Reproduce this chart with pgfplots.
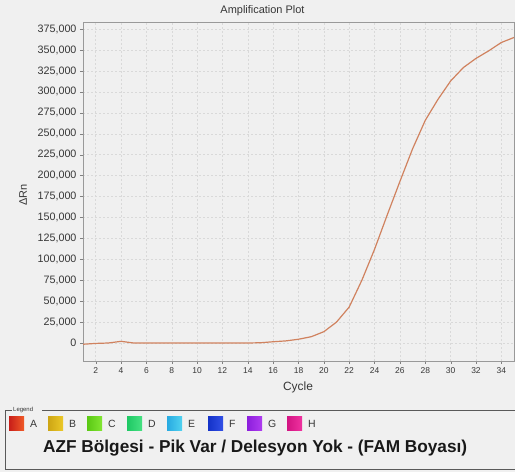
\documentclass[border=0pt]{standalone}
\usepackage{pgfplots}
\pgfplotsset{compat=1.18}
\usepackage{fontspec}
\setmainfont{Liberation Sans}
\definecolor{bg}{RGB}{240,240,240}
\definecolor{curve}{RGB}{208,130,95}
\definecolor{txt}{RGB}{55,55,55}
\definecolor{Aa}{RGB}{200,30,25}\definecolor{Ab}{RGB}{240,90,40}
\definecolor{Ba}{RGB}{205,165,20}\definecolor{Bb}{RGB}{235,200,40}
\definecolor{Ca}{RGB}{90,200,20}\definecolor{Cb}{RGB}{130,230,50}
\definecolor{Da}{RGB}{30,200,100}\definecolor{Db}{RGB}{70,225,130}
\definecolor{Ea}{RGB}{40,170,225}\definecolor{Eb}{RGB}{80,210,240}
\definecolor{Fa}{RGB}{20,50,200}\definecolor{Fb}{RGB}{50,80,230}
\definecolor{Ga}{RGB}{140,30,220}\definecolor{Gb}{RGB}{175,60,240}
\definecolor{Ha}{RGB}{210,20,130}\definecolor{Hb}{RGB}{240,50,160}
\begin{document}
\begin{tikzpicture}
\useasboundingbox (0,0) rectangle (515bp,472bp);
\fill[bg] (0,0) rectangle (515bp,472bp);
\begin{axis}[
  at={(83bp,111bp)}, anchor=south west,
  scale only axis, width=431bp, height=339bp,
  xmin=1, xmax=35, ymin=-21500, ymax=383500,
  xtick={2,4,...,34}, ytick={0,25000,...,375000},
  scaled y ticks=false,
  /pgf/number format/assume math mode=true,
  yticklabel style={/pgf/number format/.cd, fixed, 1000 sep={,}},
  tick label style={font=\fontsize{10.8}{12}\selectfont, text=txt},
  xticklabel style={font=\fontsize{8.5}{10}\selectfont},
  tick align=outside, major tick length=3bp, tick style={gray},
  xtick pos=bottom, ytick pos=left,
  axis line style={gray!80},
  grid=major, grid style={gray!30, dash pattern=on 2bp off 2bp},
]
\addplot[curve, line width=1.2bp] coordinates {
(1,-1500) (2,-500) (3,0) (4,2000) (5,0) (6,0) (7,0) (8,0) (9,0) (10,0)
(11,0) (12,0) (13,0) (14,0) (15,300) (16,1500) (17,2500) (18,4500)
(19,7500) (20,13500) (21,25000) (22,43000) (23,75000) (24,112000)
(25,153000) (26,193000) (27,232000) (28,266000) (29,291000) (30,313000)
(31,329000) (32,340000) (33,349000) (34,359000) (35,365000)
};
\end{axis}
% titles
\node[font=\fontsize{11}{13}\selectfont, text=txt] at (262.5bp,461bp) {Amplification Plot};
\node[font=\fontsize{12}{14}\selectfont, text=txt] at (298bp,85bp) {Cycle};
\node[font=\fontsize{11}{13}\selectfont, text=txt, rotate=90] at (23bp,277bp) {ΔRn};
% legend frame
\draw[gray!70!black, line width=0.6bp] (12bp,62bp) -- (5bp,62bp) -- (5bp,3bp) -- (520bp,3bp);
\draw[gray!70!black, line width=0.6bp] (42bp,62bp) -- (520bp,62bp);
\node[font=\fontsize{6}{7}\selectfont, text=txt, anchor=west, inner sep=0pt] at (13bp,62.5bp) {Legend};
% legend items
\foreach \x/\l in {9/A,48/B,87/C,127/D,167/E,208/F,247/G,287/H}{
  \shade[left color=\l a, right color=\l b] (\x bp,41bp) rectangle ++(15bp,14bp);
  \node[font=\fontsize{10.5}{12}\selectfont, text=txt, anchor=west, inner sep=0pt] at ({(\x+21)*1bp},48bp) {\l};
}
\node[font=\bfseries\fontsize{17.3}{20}\selectfont, text=black!90, anchor=base west, inner sep=0pt] at (43bp,20bp) {AZF Bölgesi - Pik Var / Delesyon Yok - (FAM Boyası)};
\end{tikzpicture}
\end{document}
